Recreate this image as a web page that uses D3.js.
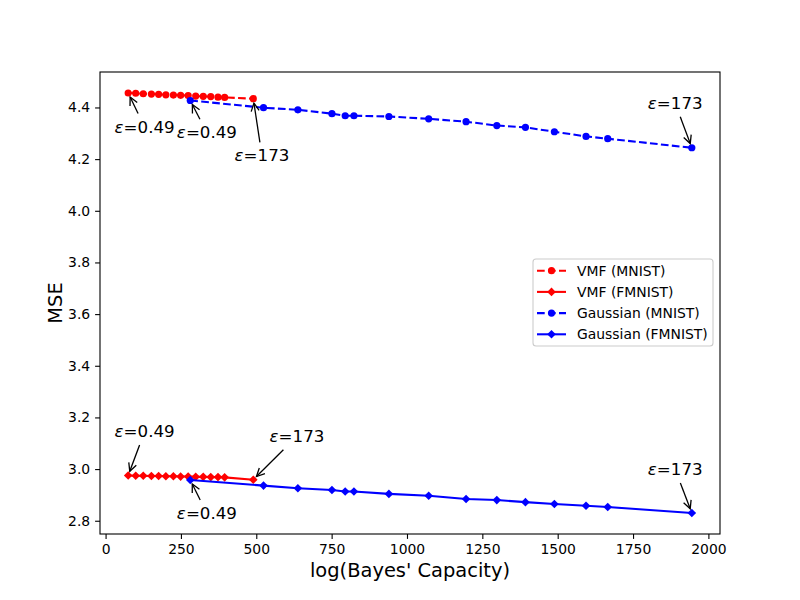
<!DOCTYPE html>
<html>
<head>
<meta charset="utf-8">
<script src="https://cdn.jsdelivr.net/npm/d3@7"></script>
<style>
body { margin: 0; background: #fff; }
svg { font-family: "DejaVu Sans", sans-serif; }
</style>
</head>
<body>
<svg id="chart" width="800" height="600"></svg>
<script>
// ---- data ----
const vmfX = [75, 100, 125, 152, 176, 200, 225, 249, 274, 299, 324, 349, 373, 395, 490];
const vmfMnist = [4.456, 4.455, 4.453, 4.452, 4.451, 4.449, 4.448, 4.447, 4.446, 4.444, 4.443, 4.442, 4.440, 4.439, 4.434];
const vmfFmnist = [2.975, 2.974, 2.974, 2.973, 2.973, 2.972, 2.972, 2.971, 2.971, 2.970, 2.970, 2.969, 2.969, 2.968, 2.959];
const gaussX = [281, 524, 638, 751, 795, 824, 940, 1072, 1196, 1298, 1393, 1489, 1594, 1666, 1945];
const gaussMnist = [4.427, 4.399, 4.391, 4.376, 4.368, 4.368, 4.365, 4.356, 4.345, 4.330, 4.323, 4.306, 4.288, 4.279, 4.244];
const gaussFmnist = [2.958, 2.936, 2.926, 2.919, 2.913, 2.913, 2.904, 2.897, 2.884, 2.880, 2.872, 2.865, 2.858, 2.853, 2.830];
const seriesNames = ["VMF (MNIST)", "VMF (FMNIST)", "Gaussian (MNIST)", "Gaussian (FMNIST)"];
const xTicks = [0, 250, 500, 750, 1000, 1250, 1500, 1750, 2000];
const yTicks = [2.8, 3.0, 3.2, 3.4, 3.6, 3.8, 4.0, 4.2, 4.4];
const epsLabels = ["0.49", "173"];

// ---- series definitions (style) ----
const series = [
  { name: seriesNames[0], xs: vmfX, ys: vmfMnist, color: "#ff0000", dash: "7.7,3.3", marker: "circle" },
  { name: seriesNames[1], xs: vmfX, ys: vmfFmnist, color: "#ff0000", dash: null, marker: "diamond" },
  { name: seriesNames[2], xs: gaussX, ys: gaussMnist, color: "#0000ff", dash: "7.7,3.3", marker: "circle" },
  { name: seriesNames[3], xs: gaussX, ys: gaussFmnist, color: "#0000ff", dash: null, marker: "diamond" }
];

// annotations: series index, point index, label, text offset (baseline-left) in px
const annotations = [
  { s: 0, i: 0, label: epsLabels[0], dx: -13.6, dy: 39.5 },
  { s: 2, i: 0, label: epsLabels[0], dx: -13.4, dy: 37.7 },
  { s: 0, i: 14, label: epsLabels[1], dx: -18.7, dy: 62.7 },
  { s: 2, i: 14, label: epsLabels[1], dx: -44, dy: -39 },
  { s: 1, i: 0, label: epsLabels[0], dx: -13.6, dy: -38.6 },
  { s: 3, i: 0, label: epsLabels[0], dx: -13.4, dy: 39 },
  { s: 1, i: 14, label: epsLabels[1], dx: 16.3, dy: -38 },
  { s: 3, i: 14, label: epsLabels[1], dx: -44, dy: -38 }
];

// ---- layout ----
const L = 100, R = 720, T = 72, B = 534;
const svg = d3.select("#chart");

const allX = vmfX.concat(gaussX);
const allY = vmfMnist.concat(vmfFmnist, gaussMnist, gaussFmnist);
const [xmin, xmax] = d3.extent(allX);
const [ymin, ymax] = d3.extent(allY);
const xm = (xmax - xmin) * 0.05, ym = (ymax - ymin) * 0.05;

const x = d3.scaleLinear().domain([xmin - xm, xmax + xm]).range([L, R]);
const y = d3.scaleLinear().domain([ymin - ym, ymax + ym]).range([B, T]);

// axes
const xAxis = d3.axisBottom(x).tickValues(xTicks).tickSize(4.9).tickPadding(4.9).tickFormat(d3.format("d"));
const yAxis = d3.axisLeft(y).tickValues(yTicks).tickSize(4.9).tickPadding(4.9).tickFormat(d3.format(".1f"));

const gx = svg.append("g").attr("transform", `translate(0,${B})`).call(xAxis);
const gy = svg.append("g").attr("transform", `translate(${L},0)`).call(yAxis);
[gx, gy].forEach(g => {
  g.select(".domain").remove();
  g.selectAll(".tick line").attr("stroke", "#000").attr("stroke-width", 1.1);
  g.selectAll(".tick text").attr("fill", "#000").style("font-size", "13.9px").style("font-family", "DejaVu Sans");
});

// frame
svg.append("rect").attr("x", L).attr("y", T).attr("width", R - L).attr("height", B - T)
  .attr("fill", "none").attr("stroke", "#000").attr("stroke-width", 1.1);

// clip
svg.append("clipPath").attr("id", "clip").append("rect")
  .attr("x", L).attr("y", T).attr("width", R - L).attr("height", B - T);

const plot = svg.append("g");

const line = d3.line().x(d => x(d[0])).y(d => y(d[1]));

function drawMarker(g, type, cx, cy, color) {
  if (type === "circle") {
    g.append("circle").attr("cx", cx).attr("cy", cy).attr("r", 3.6).attr("fill", color);
  } else {
    const h = 4.3;
    g.append("path").attr("d", `M${cx},${cy - h}L${cx + h},${cy}L${cx},${cy + h}L${cx - h},${cy}Z`).attr("fill", color);
  }
}

series.forEach(s => {
  const pts = s.xs.map((xv, i) => [xv, s.ys[i]]);
  const g = plot.append("g");
  g.append("path").attr("d", line(pts)).attr("fill", "none").attr("stroke", s.color)
    .attr("stroke-width", 2.08).attr("stroke-dasharray", s.dash || null);
  pts.forEach(p => drawMarker(g, s.marker, x(p[0]), y(p[1]), s.color));
});

// annotations
const ag = svg.append("g");
svg.append("defs").append("marker").attr("id", "ah");
annotations.forEach(a => {
  const s = series[a.s];
  const px = x(s.xs[a.i]), py = y(s.ys[a.i]);
  const t = ag.append("text").attr("x", px + a.dx).attr("y", py + a.dy)
    .style("font-size", "16.67px").attr("fill", "#000");
  t.append("tspan").style("font-style", "italic").text("ε");
  t.append("tspan").text("=" + a.label);
  const bb = t.node().getBBox();
  const pad = 4;
  const bx0 = bb.x - pad, bx1 = bb.x + bb.width + pad, by0 = bb.y - pad, by1 = bb.y + bb.height + pad;
  const cx = bb.x + bb.width / 2, cy = bb.y + bb.height / 2;
  const vx = px - cx, vy = py - cy;
  let tt = Infinity;
  if (vx > 0) tt = Math.min(tt, (bx1 - cx) / vx);
  if (vx < 0) tt = Math.min(tt, (bx0 - cx) / vx);
  if (vy > 0) tt = Math.min(tt, (by1 - cy) / vy);
  if (vy < 0) tt = Math.min(tt, (by0 - cy) / vy);
  const sx = cx + vx * tt, sy = cy + vy * tt;
  const len = Math.hypot(px - sx, py - sy);
  const ux = (px - sx) / len, uy = (py - sy) / len;
  const hx = px - ux * 4.5, hy = py - uy * 4.5;
  ag.append("line").attr("x1", sx).attr("y1", sy).attr("x2", hx).attr("y2", hy)
    .attr("stroke", "#000").attr("stroke-width", 1.3);
  // open arrow head
  const hl = 8, hw = 4;
  const bxh = hx - ux * hl, byh = hy - uy * hl;
  const nx = -uy, ny = ux;
  ag.append("path").attr("d", `M${bxh + nx * hw},${byh + ny * hw}L${hx},${hy}L${bxh - nx * hw},${byh - ny * hw}`)
    .attr("fill", "none").attr("stroke", "#000").attr("stroke-width", 1.3);
});

// axis labels
svg.append("text").attr("x", (L + R) / 2).attr("y", 577).attr("text-anchor", "middle")
  .style("font-size", "19.44px").attr("fill", "#000").text("log(Bayes' Capacity)");
svg.append("text").attr("transform", `translate(62,${(T + B) / 2}) rotate(-90)`).attr("text-anchor", "middle")
  .style("font-size", "19.44px").attr("fill", "#000").text("MSE");

// legend
const lg = svg.append("g");
lg.append("rect").attr("x", 533).attr("y", 259).attr("width", 180).attr("height", 87)
  .attr("rx", 3).attr("fill", "#fff").attr("fill-opacity", 0.8).attr("stroke", "#cccccc").attr("stroke-width", 1.1);
series.forEach((s, i) => {
  const ry = 270.7 + i * 21.2;
  lg.append("line").attr("x1", 537).attr("x2", 566).attr("y1", ry).attr("y2", ry)
    .attr("stroke", s.color).attr("stroke-width", 2.08).attr("stroke-dasharray", s.dash || null);
  drawMarker(lg, s.marker, 551.5, ry, s.color);
  lg.append("text").attr("x", 577).attr("y", ry).attr("dy", "0.35em")
    .style("font-size", "13.9px").attr("fill", "#000").text(s.name);
});
</script>
</body>
</html>
